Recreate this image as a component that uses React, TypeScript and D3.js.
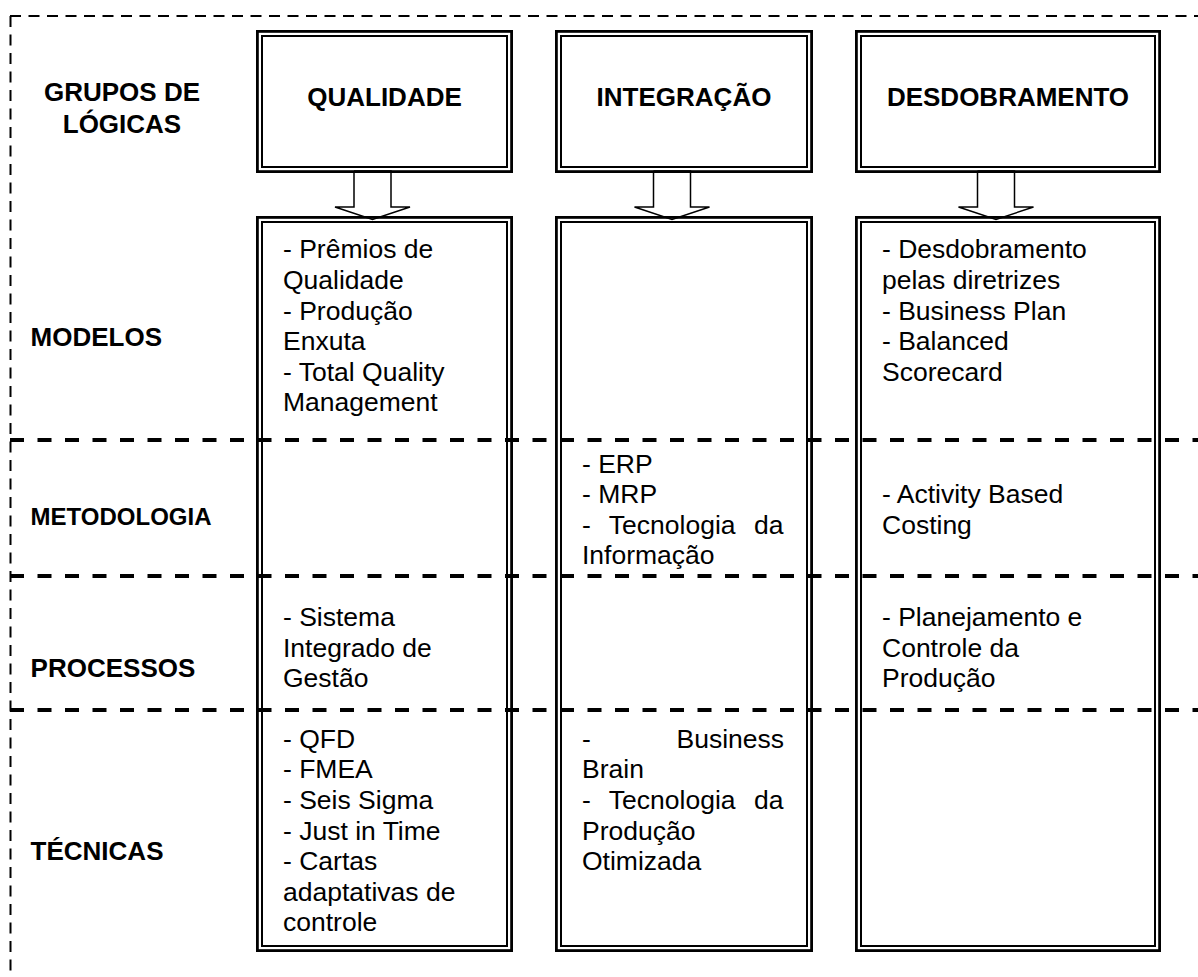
import { useMemo } from "react";
import * as d3 from "d3";

// columns (groups of logics) and rows (levels)
const groups = ["QUALIDADE", "INTEGRAÇÃO", "DESDOBRAMENTO"];
const levels = ["MODELOS", "METODOLOGIA", "PROCESSOS", "TÉCNICAS"];
const cornerLabel = ["GRUPOS DE", "LÓGICAS"];

// cell text, one entry per level, already broken into printed lines
const qualidadeItems = [
  ["- Prêmios de", "Qualidade", "- Produção", "Enxuta", "- Total Quality", "Management"],
  [],
  ["- Sistema", "Integrado de", "Gestão"],
  ["- QFD", "- FMEA", "- Seis Sigma", "- Just in Time", "- Cartas", "adaptativas de", "controle"],
];
const integracaoItems = [
  [],
  ["- ERP", "- MRP", "- Tecnologia da", "Informação"],
  [],
  ["- Business", "Brain", "- Tecnologia da", "Produção", "Otimizada"],
];
const desdobramentoItems = [
  ["- Desdobramento", "pelas diretrizes", "- Business Plan", "- Balanced", "Scorecard"],
  ["- Activity Based", "Costing"],
  ["- Planejamento e", "Controle da", "Produção"],
  [],
];
const cellItems = [qualidadeItems, integracaoItems, desdobramentoItems];
const justified = [false, true, false];

const W = 1198;
const H = 977;
const FONT = "'Liberation Sans', Arial, Helvetica, sans-serif";
const BODY_SIZE = 26.5;
const LINE_H = 30.6;

const colLeft = d3.scaleOrdinal<string, number>().domain(groups).range([256, 555, 855]);
const colRight = d3.scaleOrdinal<string, number>().domain(groups).range([513, 813, 1161]);
const rowTop = d3.scaleOrdinal<string, number>().domain(levels).range([216, 440, 576, 710]);
const rowLabelY = d3.scaleOrdinal<string, number>().domain(levels).range([345.7, 525, 677, 860]);
const rowLabelSize = d3.scaleOrdinal<string, number>().domain(levels).range([26, 24, 26, 26]);

const HEAD_TOP = 30;
const HEAD_BOTTOM = 173;
const BODY_TOP = 216;
const BODY_BOTTOM = 952;

// first baseline of a cell: top aligned, except METODOLOGIA which is centred
function firstBaseline(level: string, n: number) {
  if (level === "METODOLOGIA") return 509.5 - ((n - 1) * LINE_H) / 2 + 9;
  if (level === "MODELOS") return 258.3;
  if (level === "PROCESSOS") return 626;
  return 747.7;
}

function DoubleBox({ x0, x1, y0, y1 }: { x0: number; x1: number; y0: number; y1: number }) {
  return (
    <g fill="none" stroke="#000">
      <rect x={x0 + 1.4} y={y0 + 1.4} width={x1 - x0 - 2.8} height={y1 - y0 - 2.8} strokeWidth={2.8} />
      <rect x={x0 + 6} y={y0 + 6} width={x1 - x0 - 12} height={y1 - y0 - 12} strokeWidth={2} />
    </g>
  );
}

export default function App() {
  const measure = useMemo(() => {
    const ctx = document.createElement("canvas").getContext("2d");
    return (s: string) => {
      if (!ctx) return s.length * BODY_SIZE * 0.5;
      ctx.font = `${BODY_SIZE}px ${FONT}`;
      return ctx.measureText(s).width;
    };
  }, []);

  const arrowLine = d3.line<[number, number]>();

  return (
    <svg
      width={W}
      height={H}
      style={{ position: "absolute", left: 0, top: 0, display: "block", background: "#fff" }}
      fontFamily={FONT}
    >
      {/* outer dashed frame */}
      <line x1={10} x2={W} y1={16} y2={16} stroke="#000" strokeWidth={2} strokeDasharray="11 7.5" />
      <line x1={10.5} x2={10.5} y1={16} y2={H} stroke="#000" strokeWidth={2} strokeDasharray="11 7.5" />

      {/* corner label */}
      {cornerLabel.map((t, i) => (
        <text key={t} x={122} y={101 + i * 32} textAnchor="middle" fontWeight="bold" fontSize={26}>
          {t}
        </text>
      ))}

      {groups.map((g) => {
        const x0 = colLeft(g);
        const x1 = colRight(g);
        const cx = (x0 + x1) / 2 - 12;
        const pts: [number, number][] = [
          [cx - 18.5, 171],
          [cx + 18.5, 171],
          [cx + 18.5, 207],
          [cx + 37.5, 207],
          [cx, 219.5],
          [cx - 37.5, 207],
          [cx - 18.5, 207],
          [cx - 18.5, 171],
        ];
        return (
          <g key={g}>
            <path d={arrowLine(pts) || ""} fill="#fff" stroke="#000" strokeWidth={1.5} />
            <DoubleBox x0={x0} x1={x1} y0={HEAD_TOP} y1={HEAD_BOTTOM} />
            <DoubleBox x0={x0} x1={x1} y0={BODY_TOP} y1={BODY_BOTTOM} />
            <text x={(x0 + x1) / 2} y={106} textAnchor="middle" fontWeight="bold" fontSize={26}>
              {g}
            </text>
          </g>
        );
      })}

      {/* level separators */}
      {levels.slice(1).map((l) => (
        <line
          key={l}
          x1={10}
          x2={W}
          y1={rowTop(l)}
          y2={rowTop(l)}
          stroke="#000"
          strokeWidth={4}
          strokeDasharray="14 13.5"
        />
      ))}

      {/* level labels */}
      {levels.map((l) => (
        <text key={l} x={30.6} y={rowLabelY(l)} fontWeight="bold" fontSize={rowLabelSize(l)}>
          {l}
        </text>
      ))}

      {/* cell text */}
      {groups.map((g, gi) =>
        levels.map((l, li) => {
          const lines = cellItems[gi][li];
          const left = colLeft(g) + 27;
          const avail = colRight(g) - 29 - left;
          const y0 = firstBaseline(l, lines.length);
          return lines.map((t, k) => {
            const next = lines[k + 1];
            const spaces = (t.match(/ /g) || []).length;
            let ws = 0;
            if (justified[gi] && next && !next.startsWith("-") && spaces > 0) {
              ws = Math.max(0, (avail - measure(t)) / spaces);
            }
            return (
              <text
                key={`${g}-${l}-${k}`}
                x={left}
                y={y0 + k * LINE_H}
                fontSize={BODY_SIZE}
                wordSpacing={ws}
                style={{ whiteSpace: "pre" }}
              >
                {t}
              </text>
            );
          });
        })
      )}
    </svg>
  );
}
